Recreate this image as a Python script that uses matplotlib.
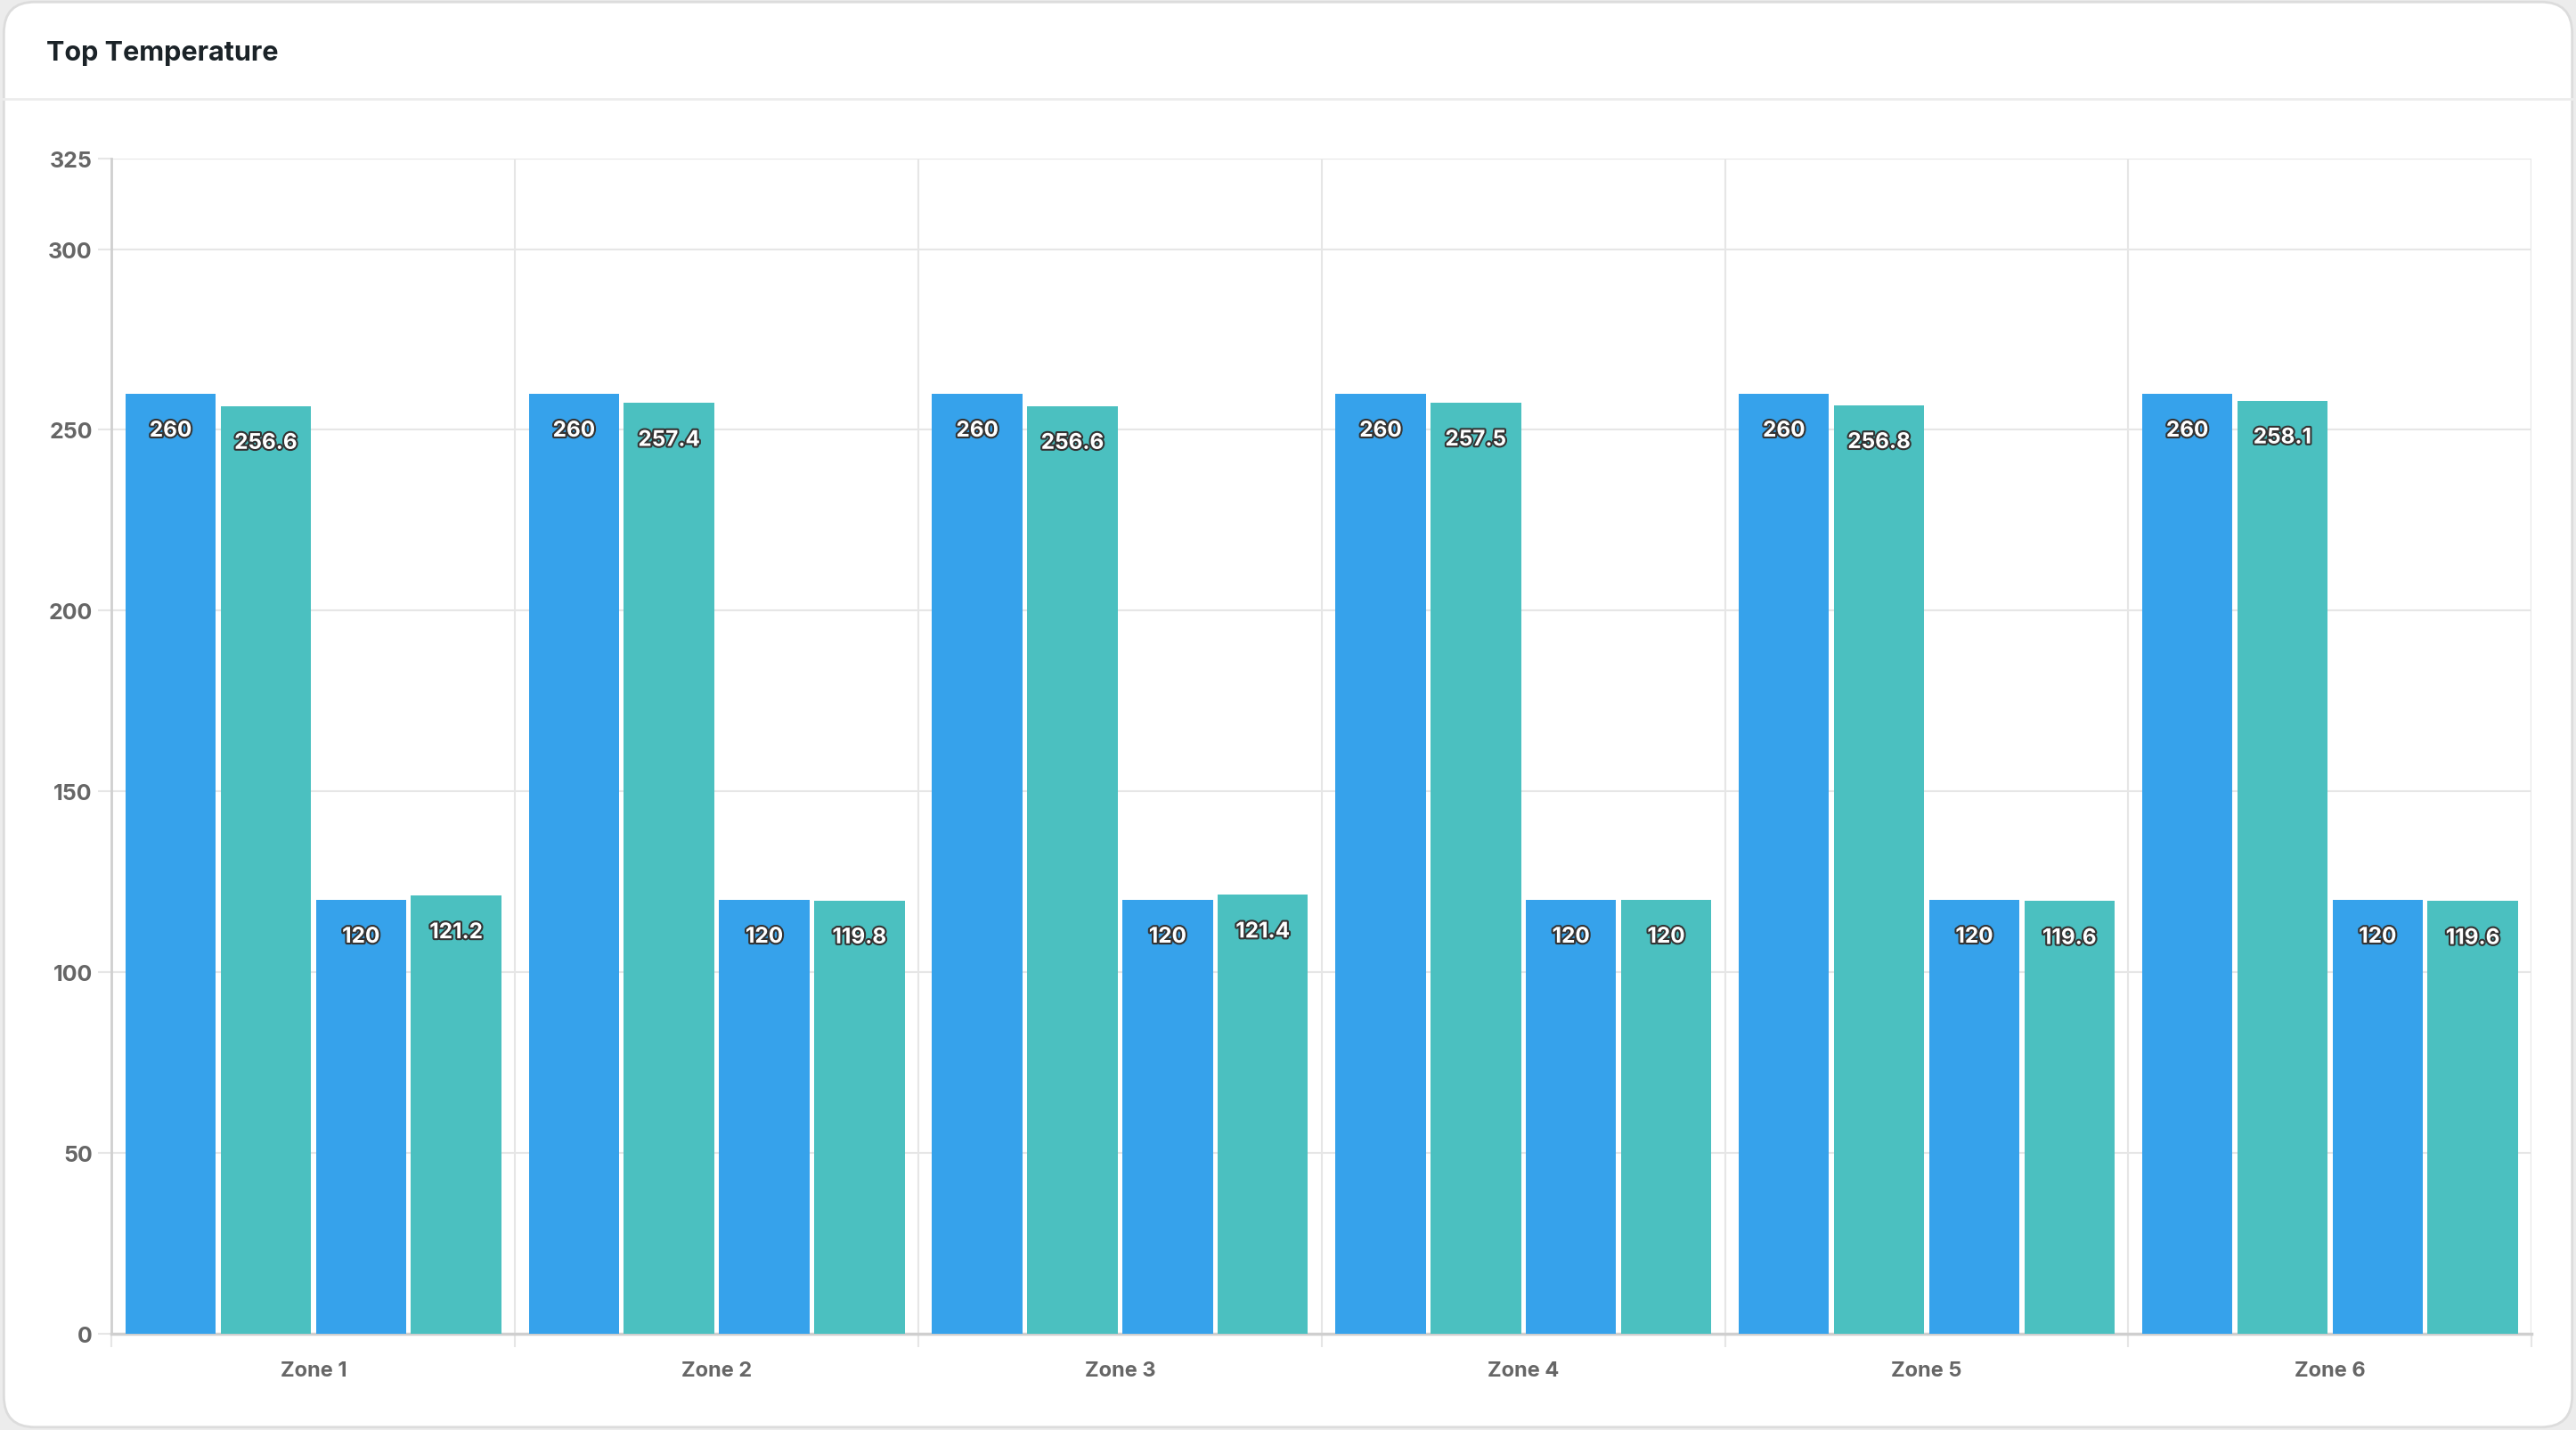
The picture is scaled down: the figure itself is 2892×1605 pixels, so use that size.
import numpy as np
import matplotlib
matplotlib.use("Agg")
import matplotlib.pyplot as plt
import matplotlib.patheffects as pe
from matplotlib.patches import FancyBboxPatch

# chart data
zones = ["Zone 1", "Zone 2", "Zone 3", "Zone 4", "Zone 5", "Zone 6"]
set_top_1 = [260, 260, 260, 260, 260, 260]
actual_top_1 = [256.6, 257.4, 256.6, 257.5, 256.8, 258.1]
set_top_2 = [120, 120, 120, 120, 120, 120]
actual_top_2 = [121.2, 119.8, 121.4, 120, 119.6, 119.6]
y_ticks = [0, 50, 100, 150, 200, 250, 300, 325]

blue = "#36A2EB"
teal = "#4BC0C0"
grid_c = "#e6e6e6"

plt.rcParams["font.family"] = ["Inter", "DejaVu Sans"]

fig = plt.figure(figsize=(28.92, 16.06), dpi=100)
fig.patch.set_facecolor("#ececec")

# card background
card = FancyBboxPatch((0.0015, 0.002), 0.997, 0.996, boxstyle="round,pad=0,rounding_size=0.012",
                      transform=fig.transFigure, facecolor="white", edgecolor="#dcdcdc",
                      linewidth=2, mutation_aspect=2892 / 1606, zorder=-10)
fig.patches.append(card)
fig.add_artist(plt.Line2D([0.001, 0.999], [1 - 112 / 1606] * 2, transform=fig.transFigure,
                          color="#ececec", linewidth=2, zorder=-5))
fig.text(52 / 2892, 1 - 60 / 1606, "Top Temperature", fontsize=22, fontweight="bold",
         color="#1b2328", va="center", ha="left")

ax = fig.add_axes([0.04336, 0.06744, 0.93944, 0.82106])
ax.set_facecolor("none")
ax.set_zorder(2)

x = np.arange(len(zones))
slot = 0.236
bw = 0.224
series = [(set_top_1, blue), (actual_top_1, teal), (set_top_2, blue), (actual_top_2, teal)]
for i, (vals, col) in enumerate(series):
    pos = x + (i - 1.5) * slot
    bars = ax.bar(pos, vals, width=bw, color=col, zorder=3)
    for b, v in zip(bars, vals):
        lbl = f"{v:g}"
        ax.annotate(lbl, (b.get_x() + b.get_width() / 2, v), xytext=(0, -30),
                    textcoords="offset points", ha="center", va="center",
                    fontsize=17.5, fontweight="bold", color="white", zorder=5,
                    path_effects=[pe.withStroke(linewidth=3, foreground="#333333")])

ax.set_xlim(-0.5, len(zones) - 0.5)
ax.set_ylim(0, 325)
ax.set_yticks(y_ticks)
ax.set_xticks(x)
ax.set_xticklabels(zones)
ax.set_xticks(np.arange(len(zones) + 1) - 0.5, minor=True)

ax.grid(axis="y", color=grid_c, linewidth=1.5, zorder=0)
ax.grid(axis="x", which="minor", color=grid_c, linewidth=1.5, zorder=0)
ax.tick_params(axis="y", length=10.5, width=1.5, color=grid_c, pad=5,
               labelsize=18, labelcolor="#666666")
ax.tick_params(axis="x", which="major", length=0, pad=22, labelsize=17, labelcolor="#666666")
ax.tick_params(axis="x", which="minor", length=10.5, width=1.5, color=grid_c)
for t in ax.get_yticklabels() + ax.get_xticklabels():
    t.set_fontweight("bold")

for s in ["top", "right"]:
    ax.spines[s].set_visible(False)
ax.spines["left"].set_color("#cfcfcf")
ax.spines["bottom"].set_color("#cfcfcf")
ax.spines["left"].set_linewidth(2)
ax.spines["bottom"].set_linewidth(2.5)

fig.savefig("out.png", dpi=100, facecolor=fig.get_facecolor())
